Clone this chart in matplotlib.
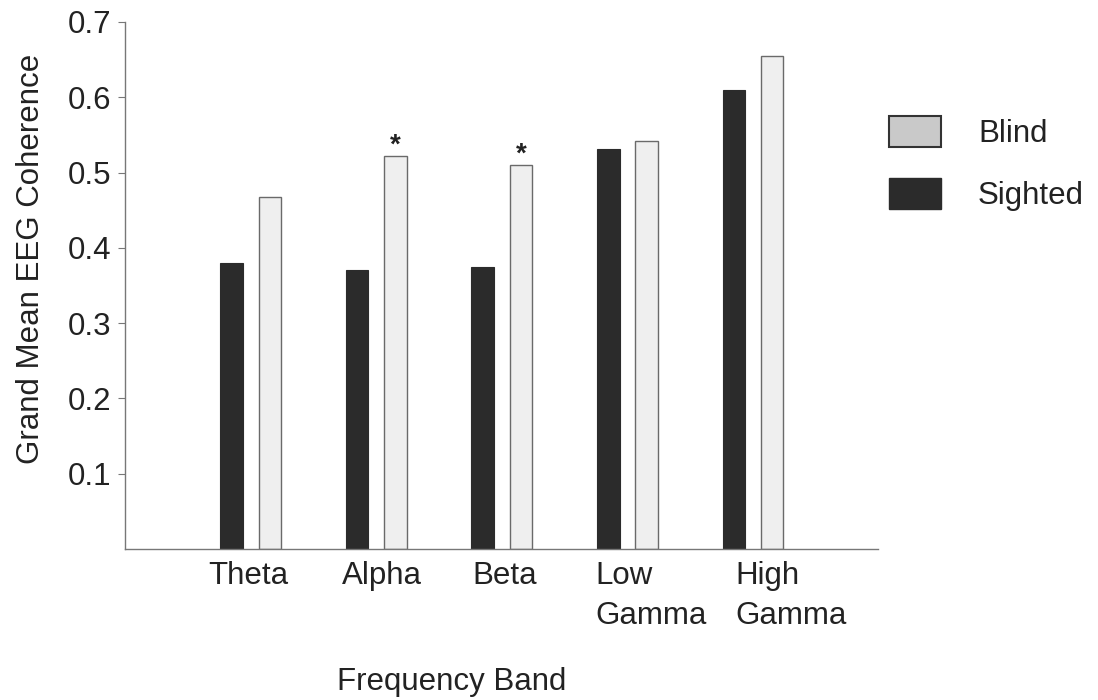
import matplotlib.pyplot as plt
import numpy as np
from matplotlib.patches import Patch

plt.rcParams['font.family'] = ['Liberation Sans', 'DejaVu Sans']

bands = ["Theta", "Alpha", "Beta", "Low\nGamma", "High\nGamma"]
sighted = [0.38, 0.37, 0.375, 0.531, 0.61]
blind = [0.468, 0.522, 0.51, 0.542, 0.655]
signif = [False, True, True, False, False]

dark = "#2b2b2b"
light = "#efefef"
fs = 22.5

fig = plt.figure(figsize=(10.98, 7.0), dpi=100)
ax = fig.add_axes([0.1138, 0.2157, 0.686, 0.7529])

x = np.arange(len(bands))
w = 0.18
ax.bar(x - 0.15, sighted, w, color=dark, edgecolor=dark, linewidth=0.8)
ax.bar(x + 0.155, blind, w, color=light, edgecolor="#6a6a6a", linewidth=1.0)

for i in range(len(bands)):
    if signif[i]:
        ax.text(x[i] + 0.155, blind[i] - 0.003, "*", ha="center", va="bottom",
                fontsize=20, fontweight="bold", color="#222222")

ax.set_xlim(-1, 5)
ax.set_ylim(0, 0.7)
ax.set_yticks([0.1, 0.2, 0.3, 0.4, 0.5, 0.6, 0.7])
ax.set_yticklabels(["0.1", "0.2", "0.3", "0.4", "0.5", "0.6", "0.7"])
ax.tick_params(axis="y", labelsize=fs, length=5, width=0.8, color="#777777",
               pad=5, labelcolor="#222222")
ax.set_xticks([])
for s in ["top", "right"]:
    ax.spines[s].set_visible(False)
for s in ["left", "bottom"]:
    ax.spines[s].set_color("#777777")
    ax.spines[s].set_linewidth(1.0)

# category labels, left aligned like the original
label_off = [-0.335, -0.27, -0.233, -0.25, -0.135]
for i, lab in enumerate(bands):
    ax.annotate(lab, xy=(x[i] + label_off[i], 0), xycoords=("data", "axes fraction"),
                xytext=(0, -12), textcoords="offset pixels", ha="left", va="top",
                fontsize=fs, color="#222222", linespacing=1.42)

ax.set_ylabel("Grand Mean EEG Coherence", fontsize=fs, color="#222222")
ax.yaxis.set_label_coords(-0.105, 0.55)
fig.text(0.411, 0.026, "Frequency Band", ha="center", va="center",
         fontsize=fs, color="#222222")

handles = [Patch(facecolor="#c9c9c9", edgecolor="#333333", linewidth=1.5),
           Patch(facecolor=dark, edgecolor=dark)]
fig.legend(handles, ["Blind", "Sighted"], loc="upper left",
           bbox_to_anchor=(0.784, 0.874), frameon=False, fontsize=fs,
           handlelength=1.65, handleheight=1.15, handletextpad=1.2,
           labelspacing=0.9, labelcolor="#222222")

fig.savefig("out.png", dpi=100)
